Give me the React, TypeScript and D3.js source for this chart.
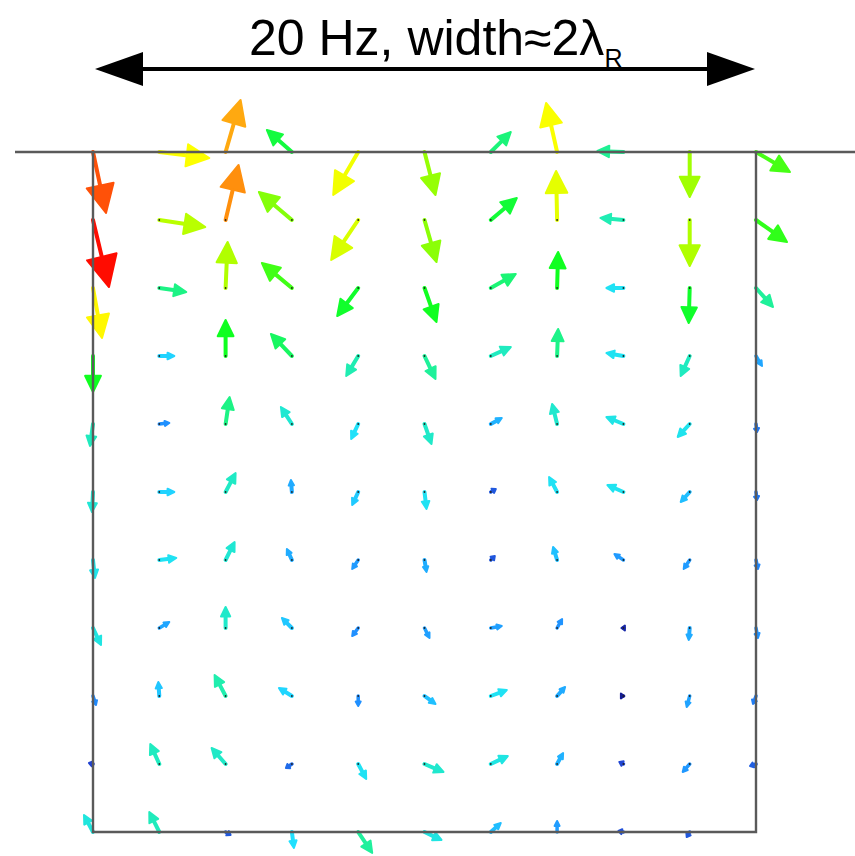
import React, {useRef, useEffect} from 'react';
import * as d3 from 'd3';

// grid columns (horizontal position) and rows (depth), in grid steps
const columns = [0, 1, 2, 3, 4, 5, 6, 7, 8, 9, 10];
const depths = [0, 1, 2, 3, 4, 5, 6, 7, 8, 9, 10];

// horizontal displacement per row (top -> bottom), columns left -> right
const U = [
    [1.3, 5.0, 1.5, -2.5, -2.5, 1.1, 2.0, -1.1, -2.6, 0.0, 3.4],
    [1.6, 4.6, 1.3, -3.3, -2.7, 1.2, 2.6, -0.1, -2.3, 0.0, 3.1],
    [0.9, 2.7, 0.2, -3.0, -2.1, 1.2, 2.5, 0.1, -1.7, -0.1, 1.7],
    [0.0, 1.5, 0.0, -2.1, -1.2, 1.1, 2.0, 0.1, -1.7, -0.9, 0.6],
    [-0.3, 1.0, 0.4, -1.1, -0.7, 0.7, 1.1, -0.5, -1.7, -1.2, 0.1],
    [-0.1, 1.5, 1.0, -0.1, -0.6, 0.2, 0.5, -0.8, -1.6, -0.9, 0.1],
    [0.2, 1.7, 0.9, -0.5, -0.6, 0.2, 0.4, -0.4, -0.9, -0.6, 0.2],
    [0.8, 1.0, 0.0, -1.0, -0.6, 0.5, 1.1, 0.5, -0.2, -0.1, 0.2],
    [0.3, -0.1, -1.1, -1.3, 0.0, 1.1, 1.6, 0.8, 0.1, -0.3, -0.3],
    [-0.4, -0.9, -1.4, -0.6, 0.8, 1.9, 1.7, 0.6, -0.4, -0.7, -0.6],
    [-0.9, -1.0, 0.5, 0.2, 1.4, 1.7, 1.0, 0.0, -0.5, -0.3, 0.0],
];

// vertical displacement (positive = downward)
const V = [
    [6.1, 0.6, -5.2, -2.2, 4.3, 4.3, -2.0, -4.9, -0.1, 4.5, 2.0],
    [6.7, 0.7, -5.5, -2.8, 4.0, 4.2, -2.2, -4.9, -0.2, 4.6, 2.2],
    [5.0, 0.4, -4.6, -2.5, 2.8, 3.4, -1.4, -3.6, 0.0, 3.5, 1.9],
    [3.6, 0.0, -3.6, -2.2, 2.0, 2.3, -0.9, -2.7, -0.3, 2.0, 1.0],
    [2.2, -0.1, -2.7, -1.7, 1.5, 2.0, -0.6, -2.0, -0.7, 1.3, 0.8],
    [2.0, 0.0, -1.9, -1.2, 1.3, 1.7, -0.3, -1.5, -0.7, 1.0, 0.8],
    [1.8, -0.2, -1.8, -1.1, 0.9, 1.2, -0.4, -1.3, -0.6, 0.9, 0.9],
    [1.7, -0.6, -2.1, -1.0, 0.8, 1.0, -0.2, -0.9, 0.0, 1.2, 1.0],
    [0.9, -1.4, -2.1, -0.8, 1.0, 0.8, -0.6, -0.9, 0.0, 1.1, 0.8],
    [-0.1, -2.0, -1.6, 0.4, 1.5, 0.8, -0.8, -1.1, -0.2, 0.8, 0.2],
    [-1.7, -2.0, 0.3, 1.6, 2.1, 0.8, -0.9, -1.1, -0.1, 0.5, 0.0],
];

// colour stops of the magnitude colour map
const magStops = [0, 0.4, 1.0, 1.6, 2.5, 3.6, 4.6, 5.05, 5.4, 7.0];
const magColors = ['#101080', '#2040d0', '#2090ff', '#20e0ff', '#20f0a0', '#10ff20', '#b0ff00', '#ffff00', '#ffaa10', '#ff0000'];

const title = '20 Hz, width≈2λ';
const titleSub = 'R';

export default function App(){

    const canvasRef = useRef(null);

    useEffect(() => {
        const svg = d3.select(canvasRef.current);
        svg.selectAll('*').remove();

        const xScale = d3.scaleLinear().domain([0, 10]).range([93, 756]);
        const yScale = d3.scaleLinear().domain([0, 10]).range([152, 832]);
        // vector units -> pixels
        const lenScale = d3.scaleLinear().domain([0, 1]).range([0, 10]);
        const colorScale = d3.scaleLinear().domain(magStops).range(magColors).clamp(true);

        /** title and width arrow */
        const t = svg.append('text')
            .attr('x', 249)
            .attr('y', 55)
            .attr('font-family', '"Liberation Sans", Arial, sans-serif')
            .attr('font-size', 50)
            .attr('fill', '#000');
        t.append('tspan').text(title);
        t.append('tspan').attr('font-size', 25).attr('dy', 12).text(titleSub);

        const ay = 69;
        const x0 = xScale(0) + 2, x1 = xScale(10) - 1;
        svg.append('line')
            .attr('x1', x0 + 40).attr('x2', x1 - 40)
            .attr('y1', ay).attr('y2', ay)
            .attr('stroke', '#000').attr('stroke-width', 4);
        svg.append('polygon')
            .attr('points', `${x0},${ay} ${x0 + 48},${ay - 17} ${x0 + 48},${ay + 17}`)
            .attr('fill', '#000');
        svg.append('polygon')
            .attr('points', `${x1},${ay} ${x1 - 48},${ay - 17} ${x1 - 48},${ay + 17}`)
            .attr('fill', '#000');

        /** arrows */
        const arrows = [];
        depths.forEach((r, i) => {
            columns.forEach((c, j) => {
                const u = U[i][j], v = V[i][j];
                arrows.push({x: xScale(c), y: yScale(r), dx: lenScale(u), dy: lenScale(v), mag: Math.hypot(u, v)});
            });
        });

        const arrowGroup = svg.append('g').attr('class', 'arrows');
        arrows.filter(d => d.mag > 0).forEach(d => {
            const L = Math.hypot(d.dx, d.dy);
            const ux = d.dx / L, uy = d.dy / L;
            const col = colorScale(d.mag);
            const headL = Math.max(3.5, 0.45 * L);
            const headW = Math.max(2.5, 0.22 * L);
            const tipX = d.x + d.dx, tipY = d.y + d.dy;
            const bx = tipX - ux * headL, by = tipY - uy * headL;
            const g = arrowGroup.append('g');
            g.append('line')
                .attr('x1', d.x).attr('y1', d.y)
                .attr('x2', bx + ux * 1).attr('y2', by + uy * 1)
                .attr('stroke', col)
                .attr('stroke-width', L > 12 ? 4 : 3.5)
                .attr('stroke-linecap', 'round');
            g.append('polygon')
                .attr('points', [
                    [tipX, tipY],
                    [bx - uy * headW, by + ux * headW],
                    [bx + uy * headW, by - ux * headW],
                ].map(p => p.join(',')).join(' '))
                .attr('fill', col)
                .attr('stroke', col)
                .attr('stroke-width', 2)
                .attr('stroke-linejoin', 'round');
            g.append('circle')
                .attr('cx', d.x).attr('cy', d.y).attr('r', 0.9)
                .attr('fill', '#222');
        });

        /** box */
        const box = svg.append('g')
            .attr('stroke', '#5a5a5a')
            .attr('stroke-width', 2.4)
            .attr('fill', 'none');
        box.append('line').attr('x1', 15).attr('x2', 855).attr('y1', yScale(0)).attr('y2', yScale(0));
        box.append('path')
            .attr('d', `M${xScale(0)},${yScale(0)}V${yScale(10)}H${xScale(10)}V${yScale(0)}`);
    });

    return(
        <svg
            ref={canvasRef}
            width={855}
            height={856}
            style={{position: 'absolute', left: 0, top: 0, background: '#fff'}}
        />
    );
}
